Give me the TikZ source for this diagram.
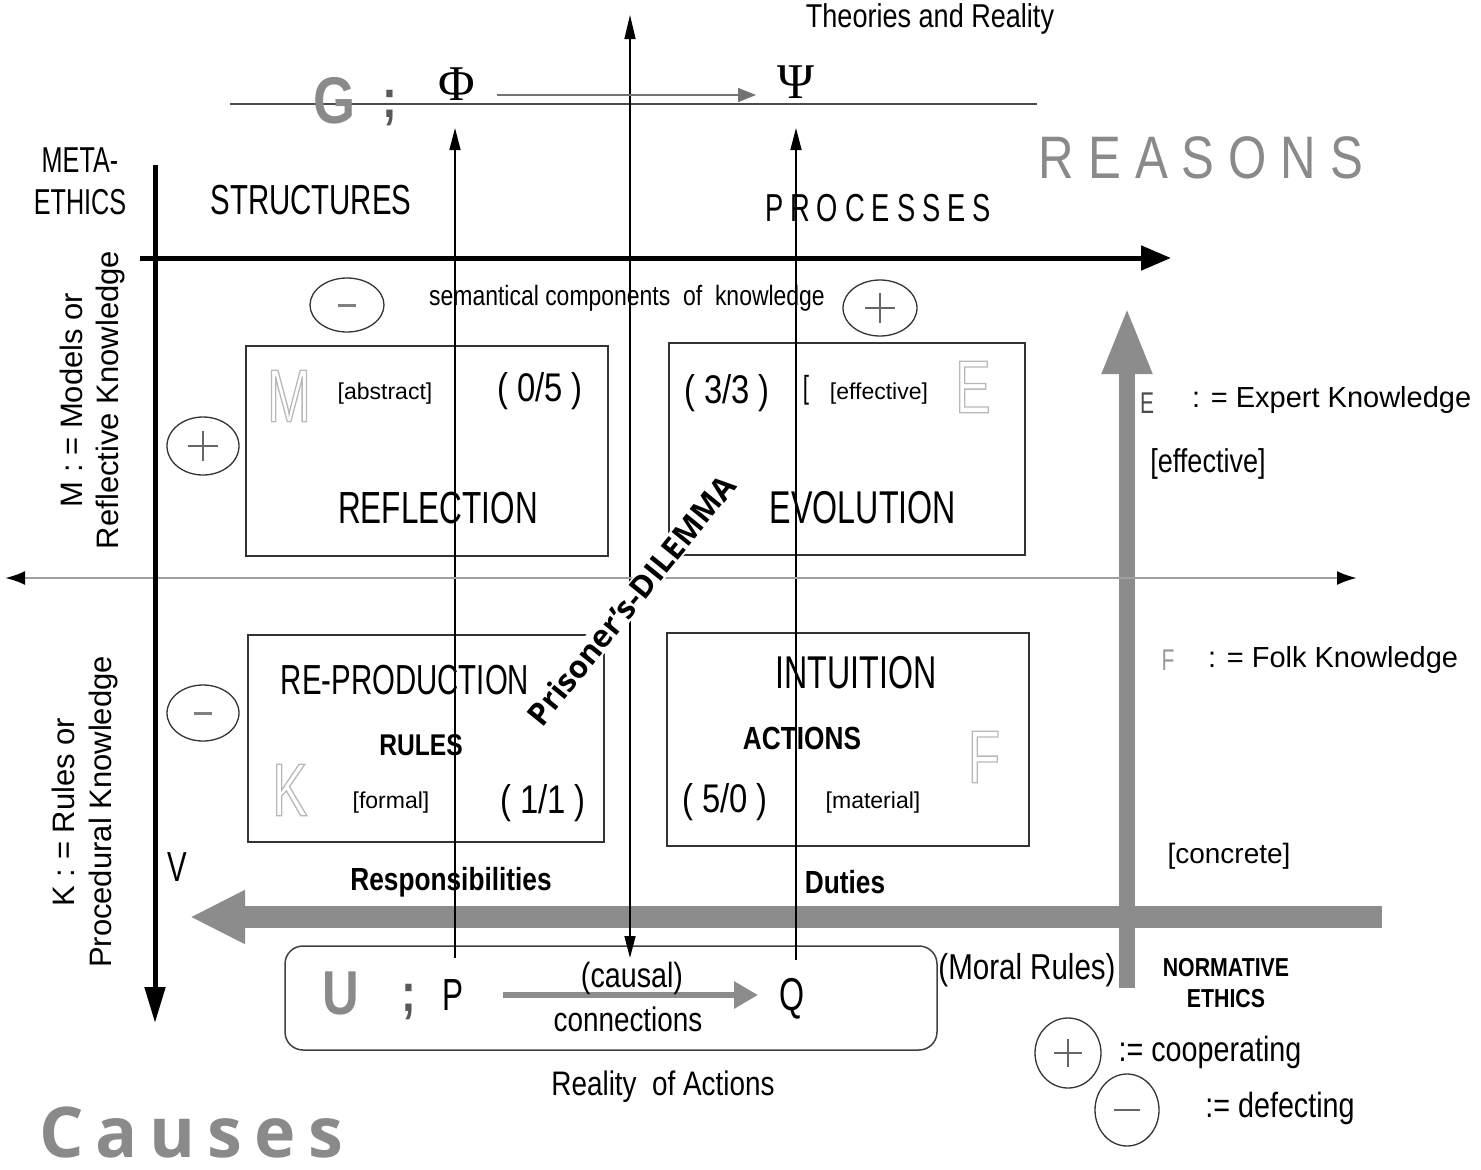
\documentclass[tikz,border=0pt]{standalone}
\usepackage{fontspec}
\usepackage{graphicx}
\setmainfont{Liberation Sans}
\newfontfamily\nf[FakeStretch=0.7]{Liberation Sans}
\newfontfamily\nfw[FakeStretch=0.82]{Liberation Sans}
\newfontfamily\osf{Open Sans}
\newfontfamily\srf{Liberation Serif}
\usetikzlibrary{arrows.meta,shapes.geometric}
\newcommand\fsz[1]{\fontsize{#1}{#1}\selectfont}
\newcommand\outl[1]{\special{pdf:literal direct 1 Tr 1.3 w}#1\special{pdf:literal direct 0 Tr}}
\definecolor{lgray}{HTML}{8A8A8A}
\definecolor{bgray}{HTML}{8C8C8C}
\definecolor{boxc}{HTML}{333333}
\definecolor{olc}{HTML}{B8B8B8}
\definecolor{tgray}{HTML}{A0A0A0}
\begin{document}
\begin{tikzpicture}[x=1pt,y=-1pt,
  every node/.style={inner sep=0pt,outer sep=0pt},
  boxst/.style={draw=boxc,line width=2pt,rectangle},
  ell/.style={draw=black!80,line width=1.3pt,ellipse},
  sign/.style={draw=black!60,line width=2.2pt},
  thin/.style={draw=black,line width=1.5pt},
  tipthin/.style={-{Triangle[length=22pt,width=11pt]}}
]
\useasboundingbox (0,0) rectangle (1481,1170);

% ---------- coordinates ----------
\coordinate (tl1) at (230,104);
\coordinate (tl2) at (1037,104);
\coordinate (vc1) at (630,958);
\coordinate (vc2) at (630,15);
\coordinate (vp1) at (455,958);
\coordinate (vp2) at (455,128);
\coordinate (vq1) at (796,960);
\coordinate (vq2) at (796,128);
\coordinate (ga1) at (497,95);
\coordinate (ga2) at (756,95);
\coordinate (kv1) at (155,165);
\coordinate (kv2) at (155,1023);
\coordinate (kh1) at (140,258);
\coordinate (kh2) at (1171,258);
\coordinate (gh1) at (5,578);
\coordinate (gh2) at (1357,578);
\coordinate (bh1) at (1382,917);
\coordinate (bh2) at (190,917);
\coordinate (bv1) at (1127,988);
\coordinate (bv2) at (1127,307);
\coordinate (ca1) at (503,995);
\coordinate (ca2) at (758,995);

% ---------- big arrows ----------
\draw[draw=bgray,line width=22pt,-{Triangle[length=55pt,width=50pt]}] (bh1) -- (bh2);
\draw[draw=bgray,line width=16pt,-{Triangle[length=67pt,width=46pt]}] (bv1) -- (bv2);

% ---------- boxes ----------
\node[boxst,minimum width=362pt,minimum height=210pt] (bR) at (427,451) {};
\node[boxst,minimum width=356pt,minimum height=212pt] (bE) at (847,449) {};
\node[boxst,minimum width=356pt,minimum height=207pt] (bP) at (426,738.5) {};
\node[boxst,line width=2.6pt,minimum width=362pt,minimum height=213pt] (bI) at (848,739.5) {};
\draw[draw=black!75,line width=1.5pt,rounded corners=18pt] (285,946) rectangle (937,1050);

% ---------- lines ----------
\draw[draw=black!70,line width=1.5pt] (tl1) -- (tl2);
\draw[thin,{Triangle[length=22pt,width=11pt]}-{Triangle[length=24pt,width=11pt]}] (vc1) -- (vc2);
\draw[thin,tipthin] (vp1) -- (vp2);
\draw[thin,tipthin] (vq1) -- (vq2);
\draw[draw=black!55,line width=1.5pt,-{Triangle[length=18pt,width=14pt]}] (ga1) -- (ga2);
\draw[draw=tgray,line width=2.5pt,{Latex[length=20pt,width=14pt,black]}-{Latex[length=20pt,width=14pt,black]}] (gh1) -- (gh2);
\draw[draw=black,line width=5pt,-{Triangle[length=36pt,width=20pt]}] (kv1) -- (kv2);
\draw[draw=black,line width=5pt,-{Triangle[length=30pt,width=24pt]}] (kh1) -- (kh2);
\draw[draw=bgray,line width=6pt,-{Triangle[length=24pt,width=26pt]}] (ca1) -- (ca2);

% ---------- Prisoner's dilemma ----------
\node[fill=white,rotate=51,inner sep=1pt] (pd) at (631,600) {\osf\bfseries\fsz{31}Prisoner’s-DILEMMA};

% ---------- top ----------
\node (theo) at (930,19) {\nfw\fsz{33}Theories and Reality};
\node (G) at (335,101) {\nfw\bfseries\fsz{66}\color{lgray}G};
\node[anchor=base] (gsc) at (390,117) {\nfw\bfseries\fsz{54}\color{black!65};};
\node[anchor=base] (phi) at (457,100) {\srf\fsz{50}Φ};
\node[anchor=base] (psi) at (796,98) {\srf\fsz{50}Ψ};
\node (reasons) at (1201,158) {\nfw\fsz{60}\color{lgray}R\kern14pt E\kern14pt A\kern14pt S\kern14pt O\kern14pt N\kern14pt S};
\node[align=center,font=\nf\fontsize{36}{42}\selectfont] (meta) at (80,181) {META-\\ETHICS};
\node (struct) at (311,200) {\nf\fsz{42}STRUCTURES};
\node (proc) at (878,208) {\nf\fsz{39}P\kern7pt R\kern7pt O\kern7pt C\kern7pt E\kern7pt S\kern7pt S\kern7pt E\kern7pt S};
\node (sem) at (627,298) {\nfw\fsz{28}semantical components\ \ of\ \ knowledge};

% ---------- ellipses ----------
\node[ell,minimum width=74pt,minimum height=54pt] (m1) at (347,305) {};
\draw[sign,line width=3pt,draw=black!50] ([xshift=-9pt]m1.center) -- ([xshift=9pt]m1.center);
\node[ell,minimum width=74pt,minimum height=56pt] (p1) at (880,308) {};
\draw[sign] ([xshift=-15pt]p1.center) -- ([xshift=15pt]p1.center) ([yshift=-15pt]p1.center) -- ([yshift=15pt]p1.center);
\node[ell,minimum width=72pt,minimum height=58pt] (p2) at (203,446) {};
\draw[sign] ([xshift=-15pt]p2.center) -- ([xshift=15pt]p2.center) ([yshift=-15pt]p2.center) -- ([yshift=15pt]p2.center);
\node[ell,minimum width=72pt,minimum height=56pt] (m2) at (203,713) {};
\draw[sign,line width=3pt,draw=black!50] ([xshift=-9pt]m2.center) -- ([xshift=9pt]m2.center);
\node[ell,minimum width=66pt,minimum height=70pt] (p3) at (1068,1053) {};
\draw[sign] ([xshift=-14pt]p3.center) -- ([xshift=14pt]p3.center) ([yshift=-14pt]p3.center) -- ([yshift=14pt]p3.center);
\node[ell,minimum width=64pt,minimum height=72pt] (m3) at (1127,1110) {};
\draw[sign] ([xshift=-13pt]m3.center) -- ([xshift=13pt]m3.center);

% ---------- REFLECTION box ----------
\node[text=olc] (oM) at (289,396) {\nf\fsz{75}\outl{M}};
\node (abs) at (385,394) {\fsz{23}[abstract]};
\node (r05) at (540,391) {\nfw\fsz{40}( 0/5 )};
\node (refl) at (438,508) {\nf\fsz{45}REFLECTION};

% ---------- EVOLUTION box ----------
\node (r33) at (727,393) {\nfw\fsz{40}( 3/3 )};
\node (brk) at (806,390) {\nf\fsz{32}[};
\node (eff) at (879,394) {\fsz{23}[effective]};
\node[text=olc] (oE) at (973,387) {\nf\fsz{75}\outl{E}};
\node (evol) at (863,508) {\nf\fsz{46}EVOLUTION};

% ---------- RE-PRODUCTION box ----------
\node (repro) at (405,680) {\nf\fsz{42}RE-PRODUCTION};
\node (rules) at (421,745) {\nfw\bfseries\fsz{30}RULES};
\node[text=olc] (oK) at (290,790) {\nf\fsz{75}\outl{K}};
\node (form) at (391,803) {\fsz{23}[formal]};
\node (r11) at (543,803) {\nfw\fsz{40}( 1/1 )};

% ---------- INTUITION box ----------
\node (intu) at (856,673) {\nf\fsz{46}INTUITION};
\node (act) at (802,738) {\nfw\bfseries\fsz{32}ACTIONS};
\node[text=olc] (oF) at (984,757) {\nf\fsz{75}\outl{F}};
\node (r50) at (725,802) {\nfw\fsz{40}( 5/0 )};
\node (mat) at (873,803) {\fsz{23}[material]};

% ---------- left labels ----------
\node[rotate=90,align=center,font=\fontsize{31}{36}\selectfont] (mlab) at (92,400) {M : = Models or\\Reflective Knowledge};
\node[rotate=90,align=center,font=\fontsize{31}{37}\selectfont] (klab) at (85,812) {K : = Rules or\\Procedural Knowledge};
\node (V) at (177,867) {\nf\fsz{42}V};

% ---------- right labels ----------
\node (Elab) at (1147,403) {\nf\fsz{30}\color{black!70}E};
\node[anchor=west] (Edef) at (1192,400) {\fsz{29}: = Expert Knowledge};
\node (effr) at (1208,464) {\nfw\fsz{33}[effective]};
\node (Flab) at (1168,660) {\nf\fsz{30}\color{black!40}F};
\node[anchor=west] (Fdef) at (1208,660) {\fsz{29}: = Folk Knowledge};
\node (conc) at (1229,856) {\fsz{28}[concrete]};

% ---------- bottom ----------
\node (resp) at (451,882) {\nfw\bfseries\fsz{32}Responsibilities};
\node (dut) at (845,882) {\nfw\bfseries\fsz{32}Duties};
\node (U) at (341,993) {\nfw\bfseries\fsz{62}\color{lgray}U};
\node[anchor=base] (usc) at (409,1011) {\nfw\bfseries\fsz{54}\color{black!65};};
\node[anchor=base] (P) at (453,1010) {\nf\fsz{45}P};
\node[anchor=base] (Q) at (792,1010) {\nf\fsz{46}Q};
\node (caus) at (632,978) {\nfw\fsz{35}(causal)};
\node (conn) at (628,1019) {\nfw\fsz{34}connections};
\node (moral) at (1027,970) {\nfw\fsz{36}(Moral Rules)};
\node[align=center,font=\nfw\bfseries\fontsize{26}{31}\selectfont] (norm) at (1226,983) {NORMATIVE\\ETHICS};
\node (coop) at (1210,1052) {\nfw\fsz{35}:= cooperating};
\node (defe) at (1280,1108) {\nfw\fsz{35}:= defecting};
\node (real) at (663,1087) {\nfw\fsz{34}Reality\ \ of Actions};
\node (causes) at (191,1132) {\osf\bfseries\fsz{70}\color{lgray}C\kern12pt a\kern12pt u\kern12pt s\kern12pt e\kern12pt s};
\end{tikzpicture}
\end{document}
